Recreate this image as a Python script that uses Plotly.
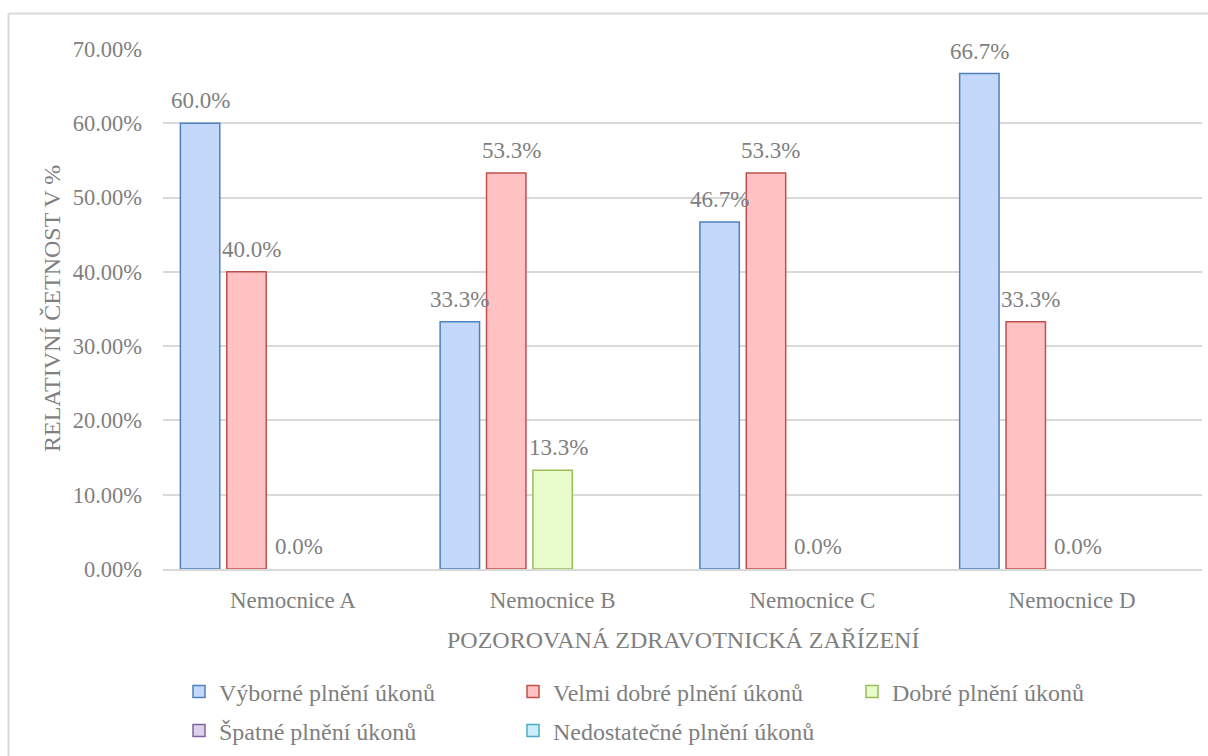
import plotly.graph_objects as go

# --- data -----------------------------------------------------------------
hospitals = ["Nemocnice A", "Nemocnice B", "Nemocnice C", "Nemocnice D"]

series_names = [
    "Výborné plnění úkonů",
    "Velmi dobré plnění úkonů",
    "Dobré plnění úkonů",
    "Špatné plnění úkonů",
    "Nedostatečné plnění úkonů",
]

vyborne = [0.600, 0.333, 0.467, 0.667]
velmi_dobre = [0.400, 0.533, 0.533, 0.333]
dobre = [0.000, 0.133, 0.000, 0.000]
spatne = [0.000, 0.000, 0.000, 0.000]
nedostatecne = [0.000, 0.000, 0.000, 0.000]

# which series carry value labels above the bars
show_labels = [True, True, True, False, False]

y_tick_values = [0.0, 0.1, 0.2, 0.3, 0.4, 0.5, 0.6, 0.7]

# --- styling ----------------------------------------------------------------
series_values = [vyborne, velmi_dobre, dobre, spatne, nedostatecne]
fill_colors = ["#c4d8fb", "#ffc1c1", "#e9fccb", "#ddd2ea", "#cbeef8"]
line_colors = ["#4f81bd", "#c0504d", "#9bbb59", "#8064a2", "#4bacc6"]
label_xshift = [0, 5, 6, 0, 0]

# legend entry placement (left edge of entry, vertical centre) in pixels
legend_pos = [(179, 692), (513, 692), (852, 692), (179, 731), (513, 731)]

FONT = "Liberation Serif, Times New Roman, serif"
GREY = "#7f7f7f"
GRID = "#d9d9d9"

W, H = 1208, 756
ML, MR, MT, MB = 163, 6, 49, 187
PW = W - ML - MR
PH = H - MT - MB

BARGAP = 0.107
BARGROUPGAP = 0.15
n_series = len(series_names)


def px_to_paper_x(px):
    return (px - ML) / PW


def px_to_paper_y(py):
    return (H - MB - py) / PH


fig = go.Figure()

legend_names = ["legend"] + [f"legend{k}" for k in range(2, n_series + 1)]

for i, (name, vals) in enumerate(zip(series_names, series_values)):
    fig.add_trace(
        go.Bar(
            name=name,
            x=hospitals,
            y=vals,
            marker=dict(
                color=fill_colors[i],
                # zero-height bars stay invisible (no outline drawn on the baseline)
                line=dict(color=line_colors[i], width=[1.5 if v > 0 else 0 for v in vals]),
            ),
            showlegend=False,
            hovertemplate="%{x}<br>" + name + ": %{y:.1%}<extra></extra>",
        )
    )

# legend swatches: empty traces on a hidden overlay axis so they take no bar slot
for i, name in enumerate(series_names):
    fig.add_trace(
        go.Bar(
            name=name,
            x=[None],
            y=[None],
            xaxis="x2",
            yaxis="y2",
            marker=dict(color=fill_colors[i], line=dict(color=line_colors[i], width=1.5)),
            legend=legend_names[i],
            showlegend=True,
            hoverinfo="skip",
        )
    )

# value labels above the bars, placed at each bar's slot in the group
slot = (1 - BARGAP) / n_series
annotations = []
for i, vals in enumerate(series_values):
    if not show_labels[i]:
        continue
    offset = -(1 - BARGAP) / 2 + (i + 0.5) * slot
    for c, v in enumerate(vals):
        annotations.append(
            dict(
                x=c + offset,
                y=v,
                xref="x",
                yref="y",
                text=f"{v * 100:.1f}%",
                showarrow=False,
                xanchor="center",
                yanchor="bottom",
                yshift=8,
                xshift=label_xshift[i],
                font=dict(family=FONT, size=23, color=GREY),
            )
        )

# axis titles
annotations.append(
    dict(
        x=px_to_paper_x(52),
        y=0.5,
        xref="paper",
        yref="paper",
        text="RELATIVNÍ ČETNOST V %",
        textangle=-90,
        showarrow=False,
        xanchor="center",
        yanchor="middle",
        font=dict(family=FONT, size=24, color=GREY),
    )
)
annotations.append(
    dict(
        x=0.5,
        y=px_to_paper_y(640),
        xref="paper",
        yref="paper",
        text="POZOROVANÁ ZDRAVOTNICKÁ ZAŘÍZENÍ",
        showarrow=False,
        xanchor="center",
        yanchor="middle",
        font=dict(family=FONT, size=24, color=GREY),
    )
)

# light frame around the chart area
shapes = [
    dict(
        type="line",
        xref="paper",
        yref="paper",
        x0=px_to_paper_x(8.5),
        x1=px_to_paper_x(W + 5),
        y0=px_to_paper_y(13.5),
        y1=px_to_paper_y(13.5),
        line=dict(color=GRID, width=2),
    ),
    dict(
        type="line",
        xref="paper",
        yref="paper",
        x0=px_to_paper_x(8.5),
        x1=px_to_paper_x(8.5),
        y0=px_to_paper_y(13.5),
        y1=px_to_paper_y(H + 5),
        line=dict(color=GRID, width=2),
    ),
]

legend_layout = {}
for name, (lx, ly) in zip(legend_names, legend_pos):
    legend_layout[name] = dict(
        orientation="h",
        xref="container",
        yref="container",
        x=lx / W,
        y=1 - ly / H,
        xanchor="left",
        yanchor="middle",
        itemwidth=30,
        bgcolor="rgba(0,0,0,0)",
        font=dict(family=FONT, size=24, color=GREY),
    )

fig.update_layout(
    width=W,
    height=H,
    autosize=False,
    margin=dict(l=ML, r=MR, t=MT, b=MB, pad=0),
    paper_bgcolor="white",
    plot_bgcolor="white",
    barmode="group",
    bargap=BARGAP,
    bargroupgap=BARGROUPGAP,
    font=dict(family=FONT, size=22, color=GREY),
    showlegend=True,
    annotations=annotations,
    shapes=shapes,
    xaxis=dict(
        type="category",
        showgrid=False,
        showline=True,
        linecolor=GRID,
        linewidth=1.5,
        ticks="",
        ticklabelstandoff=10,
        tickfont=dict(family=FONT, size=23, color=GREY),
    ),
    yaxis=dict(
        range=[0, 0.7],
        tickvals=y_tick_values,
        tickformat=".2%",
        showgrid=True,
        gridcolor=GRID,
        gridwidth=1.5,
        zeroline=False,
        showline=False,
        ticks="",
        ticklabelstandoff=20,
        tickfont=dict(family=FONT, size=22.5, color=GREY),
    ),
    xaxis2=dict(overlaying="x", visible=False, range=[0, 1]),
    yaxis2=dict(overlaying="y", visible=False, range=[0, 1]),
    **legend_layout,
)

fig.write_html("out.html")
